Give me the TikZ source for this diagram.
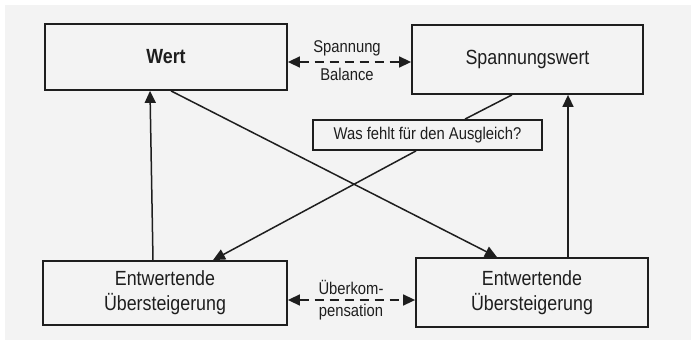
\documentclass[tikz,border=0pt]{standalone}
\usepackage{fontspec}
\setmainfont[FakeStretch=0.87]{Liberation Sans}
\usetikzlibrary{arrows.meta,calc}
\definecolor{bg}{HTML}{F3F3F3}
\definecolor{ink}{HTML}{1E1E1E}
\begin{document}
\begin{tikzpicture}[x=1pt,y=-1pt,
  box/.style={draw=ink,line width=1.8pt,fill=bg,inner sep=0pt,text=ink,align=center},
  conn/.style={draw=ink,line width=1.5pt},
  tip/.style={-{Triangle[length=12pt,width=11pt]}},
  dtip/.style={{Triangle[length=12pt,width=11pt]}-{Triangle[length=12pt,width=11pt]},dash pattern=on 9pt off 6pt},
  lbl/.style={text=ink,font=\fontsize{17}{17}\selectfont,inner sep=0pt}]
\useasboundingbox (0,0) rectangle (691,340);
\fill[bg] (5,5) rectangle (691,340);
% boxes
\node[box,minimum width=242pt,minimum height=66pt,font=\bfseries\fontsize{20.5}{20.5}\selectfont] (wert) at (166,57) {Wert};
\node[box,minimum width=231pt,minimum height=69pt,font=\fontsize{20.5}{20.5}\selectfont] (spw) at (527.5,59.5) {Spannungswert};
\node[box,minimum width=229pt,minimum height=30pt,font=\fontsize{17}{17}\selectfont] (was) at (427.5,135) {Was fehlt für den Ausgleich?};
\node[box,minimum width=244pt,minimum height=64pt,font=\fontsize{20.5}{25}\selectfont] (bl) at (165,293) {Entwertende\\Übersteigerung};
\node[box,minimum width=232pt,minimum height=69pt,font=\fontsize{20.5}{25}\selectfont] (br) at (532,292.5) {Entwertende\\Übersteigerung};
% labels
\node[lbl] (sp) at (347,48) {Spannung};
\node[lbl] (ba) at (347,74) {Balance};
\node[lbl] (ue) at (351,287) {Überkom-};
\node[lbl] (pe) at (351,312) {pensation};
% dashed double arrows
\draw[conn,dtip] (wert.east |- 0,62) -- (spw.west |- 0,62);
\draw[conn,dtip] (bl.east |- 0,300) -- (br.west |- 0,300);
% vertical arrows
\draw[conn,tip] ([xshift=-12pt]bl.north) -- ([xshift=-16pt]wert.south);
\draw[conn,tip] ([xshift=36pt]br.north) -- ([xshift=40.5pt]spw.south);
% diagonal arrows
\draw[conn,tip] ([xshift=5pt]wert.south) -- ([xshift=-35pt]br.north);
\draw[conn] ([xshift=-15.5pt]spw.south) -- ([xshift=37.5pt]was.north);
\draw[conn,tip] ([xshift=-11.5pt]was.south) -- ([xshift=48pt]bl.north);
\end{tikzpicture}
\end{document}
